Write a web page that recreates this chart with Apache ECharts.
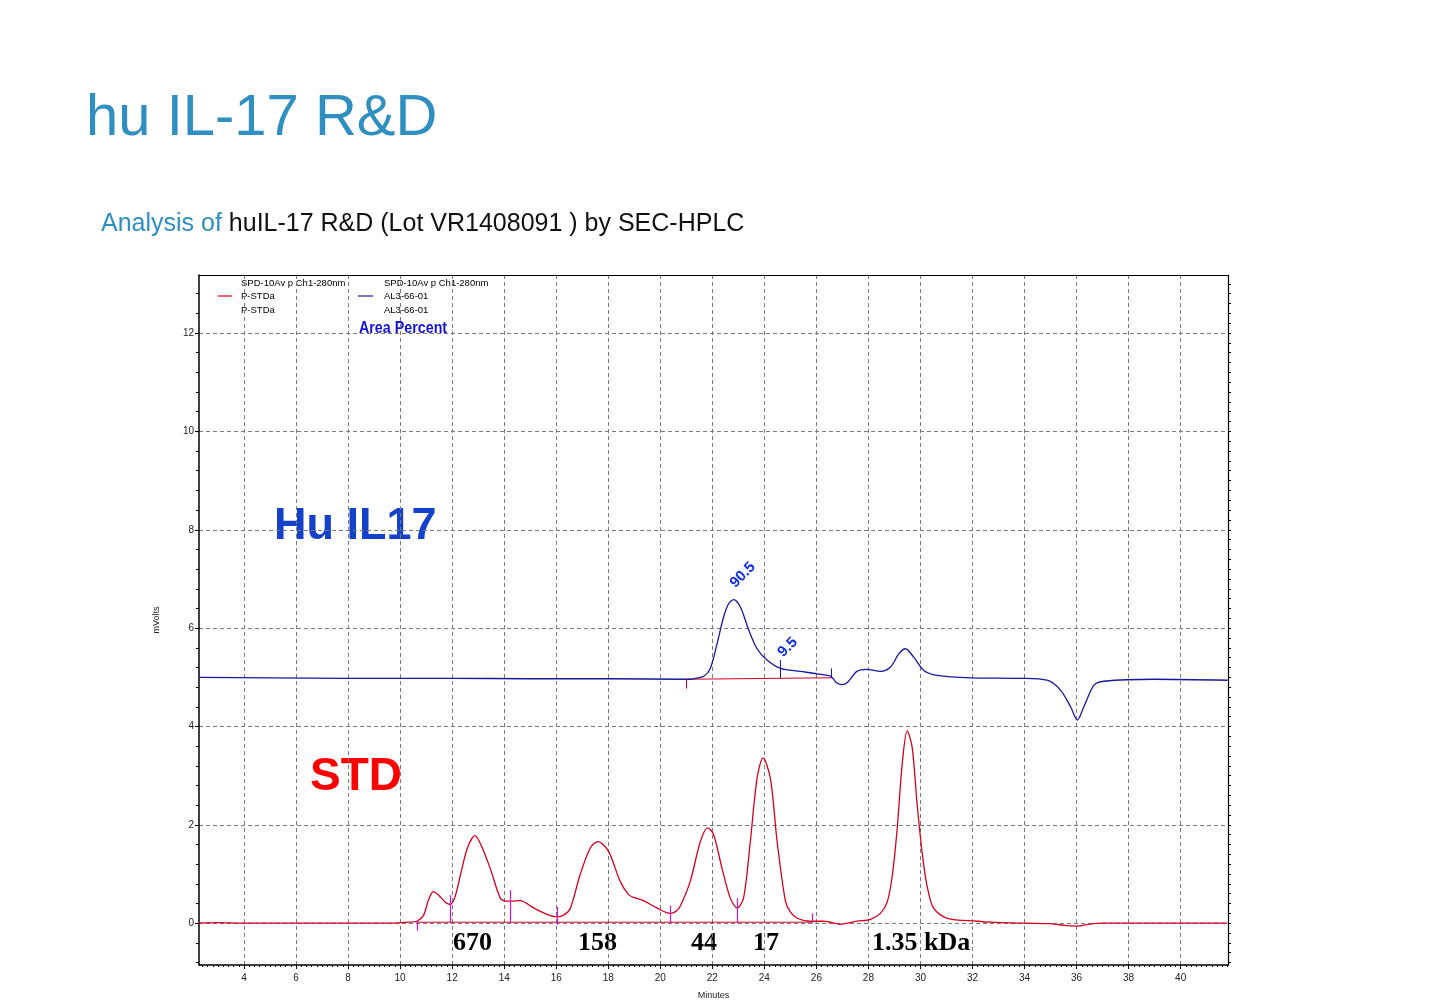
<!DOCTYPE html>
<html>
<head>
<meta charset="utf-8">
<title>hu IL-17 R&amp;D</title>
<script src="https://cdn.jsdelivr.net/npm/echarts@6.0.0/dist/echarts.min.js"></script>
<style>
html, body { margin: 0; padding: 0; background: #fff; }
#chart { width: 1439px; height: 1000px; }
</style>
</head>
<body>
<div id="chart"></div>
<script>
// STD trace (P-STDa), retention time in minutes / signal in mV
const stdTime = [2.27, 3.0, 4.0, 5.0, 6.0, 8.0, 9.5, 10.0, 10.3, 10.64, 10.9, 11.09, 11.28, 11.5, 11.75, 11.92,
	12.1, 12.35, 12.6, 12.88, 13.1, 13.46, 13.85, 14.05, 14.23, 14.62, 15.13, 15.64, 16.03, 16.3, 16.54,
	16.92, 17.31, 17.6, 18.01, 18.46, 18.78, 19.0, 19.36, 19.87, 20.38, 20.6, 20.77, 21.15, 21.54, 21.82,
	22.05, 22.37, 22.69, 22.95, 23.2, 23.46, 23.72, 23.95, 24.23, 24.49, 24.81, 25.0, 25.26, 25.77, 26.28,
	26.92, 27.56, 28.08, 28.46, 28.72, 28.91, 29.1, 29.3, 29.49, 29.68, 29.87, 30.07, 30.26, 30.51, 31.03,
	32.18, 32.69, 34.0, 35.0, 35.6, 36.0, 36.5, 37.0, 41.8];
const stdSignal = [0.0, 0.01, 0.0, 0.0, 0.0, 0.0, 0.0, 0.01, 0.02, 0.04, 0.16, 0.47, 0.64, 0.56, 0.42, 0.38,
	0.52, 1.05, 1.55, 1.78, 1.6, 1.12, 0.51, 0.45, 0.45, 0.46, 0.31, 0.18, 0.13, 0.17, 0.3,
	0.99, 1.53, 1.66, 1.46, 0.85, 0.58, 0.52, 0.46, 0.31, 0.2, 0.24, 0.35, 0.85, 1.66, 1.94,
	1.8, 1.12, 0.51, 0.31, 0.51, 1.66, 2.95, 3.36, 2.95, 1.66, 0.45, 0.23, 0.1, 0.04, 0.04,
	-0.02, 0.04, 0.08, 0.2, 0.43, 0.94, 1.89, 3.25, 3.91, 3.58, 2.43, 1.41, 0.74, 0.3, 0.1,
	0.04, 0.02, 0.0, -0.01, -0.05, -0.06, -0.02, 0.0, 0.0];

// Hu IL17 trace (AL3-66-01)
const ilTime = [2.27, 5.0, 8.0, 12.0, 15.0, 18.0, 21.0, 21.28, 21.67, 21.92, 22.18, 22.43, 22.63, 22.82,
	23.08, 23.4, 23.72, 24.1, 24.62, 25.38, 26.03, 26.56, 26.75, 26.99, 27.2, 27.56, 27.95, 28.46,
	28.85, 29.17, 29.42, 29.74, 30.13, 30.64, 31.92, 33.85, 34.87, 35.38, 35.77, 36.03, 36.28,
	36.67, 37.05, 38.97, 41.8];
const ilSignal = [5.0, 4.99, 4.98, 4.98, 4.97, 4.97, 4.96, 4.97, 5.02, 5.18, 5.68, 6.22, 6.5, 6.58,
	6.43, 5.96, 5.58, 5.35, 5.18, 5.12, 5.07, 5.02, 4.9, 4.85, 4.9, 5.12, 5.16, 5.12,
	5.21, 5.48, 5.58, 5.41, 5.14, 5.04, 4.99, 4.98, 4.94, 4.74, 4.4, 4.13, 4.4,
	4.84, 4.92, 4.96, 4.94];

// integration marks on the STD trace
const stdMarkTime = [10.64, 11.92, 14.23, 16.03, 20.38, 22.95, 25.83];
const stdMarkLow = [-0.15, 0.0, 0.0, -0.03, 0.0, 0.0, 0.0];
const stdMarkHigh = [0.06, 0.57, 0.67, 0.33, 0.36, 0.51, 0.2];
const stdBaseTime = [10.64, 25.83];
const stdBaseLevel = [0.02, 0.02];

// integration marks on the IL17 trace
const ilBaseTime = [20.99, 26.56];
const ilBaseLevel = [4.96, 4.99];
const ilStartTime = [20.99];
const ilStartLow = [4.77];
const ilStartHigh = [4.96];
const ilMarkTime = [24.62, 26.56];
const ilMarkLow = [4.98, 4.98];
const ilMarkHigh = [5.35, 5.18];

// area percent labels
const areaText = ['90.5', '9.5'];
const areaTime = [23.17, 24.9];
const areaLevel = [7.08, 5.61];

// axes
const xMin = 2.27, xMax = 41.82;
const yMin = -0.85, yMax = 13.18;
const xMajor = [4, 6, 8, 10, 12, 14, 16, 18, 20, 22, 24, 26, 28, 30, 32, 34, 36, 38, 40];
const yMajor = [0, 2, 4, 6, 8, 10, 12];

const xMinor = [];
for (let v = 2.4; v < xMax; v += 0.2) xMinor.push(+v.toFixed(1));
const yMinorLeft = [];
for (let v = -0.8; v < yMax; v += 0.4) yMinorLeft.push(+v.toFixed(1));
const yMinorRight = [];
for (let v = -0.8; v < yMax; v += 0.2) yMinorRight.push(+v.toFixed(1));

const pairs = (xs, ys) => xs.map((x, i) => [x, ys[i]]);
const vmarks = (ts, lo, hi) => ts.map((t, i) => [{ coord: [t, lo[i]] }, { coord: [t, hi[i]] }]);

const RED = '#d3001e';
const BLUE = '#17189b';
const MAGENTA = '#cc19c8';
const GRID = '#7a7a7a';
const tickFont = { color: '#222', fontSize: 10, fontFamily: 'Liberation Sans, Arial, sans-serif' };
const smallFont = '9.5px "Liberation Sans", Arial, sans-serif';
const serifBold = 'bold 26px "Liberation Serif", "Times New Roman", serif';

const myChart = echarts.init(document.getElementById('chart'), null, { renderer: 'canvas' });

const option = {
	animation: false,
	backgroundColor: '#fff',
	grid: { left: 199, top: 275, right: 211, bottom: 35, containLabel: false, outerBoundsMode: 'none' },
	xAxis: [{
		type: 'value', min: xMin, max: xMax, position: 'bottom',
		name: 'Minutes', nameLocation: 'middle', nameGap: 26,
		nameTextStyle: { color: '#222', fontSize: 9, fontFamily: 'Liberation Sans, Arial, sans-serif' },
		axisLine: { show: true, onZero: false, lineStyle: { color: '#000', width: 1.5 } },
		axisTick: { show: true, length: 4, customValues: xMajor, lineStyle: { color: '#000' } },
		axisLabel: Object.assign({ customValues: xMajor, margin: 8 }, tickFont),
		splitLine: { show: true, lineStyle: { color: GRID, type: [4, 3], width: 1 } }
	}, {
		type: 'value', min: xMin, max: xMax, position: 'bottom',
		axisLine: { show: false, onZero: false },
		axisTick: { show: true, length: 2, customValues: xMinor, lineStyle: { color: '#000' } },
		axisLabel: { show: false },
		splitLine: { show: false }
	}, {
		type: 'value', min: xMin, max: xMax, position: 'top',
		axisLine: { show: true, onZero: false, lineStyle: { color: '#000', width: 1.2 } },
		axisTick: { show: false },
		axisLabel: { show: false },
		splitLine: { show: false }
	}],
	yAxis: [{
		type: 'value', min: yMin, max: yMax, position: 'left',
		name: 'mVolts', nameLocation: 'middle', nameGap: 38,
		nameTextStyle: { color: '#222', fontSize: 9, fontFamily: 'Liberation Sans, Arial, sans-serif' },
		axisLine: { show: true, onZero: false, lineStyle: { color: '#000', width: 1.5 } },
		axisTick: { show: true, length: 4, customValues: yMajor, lineStyle: { color: '#000' } },
		axisLabel: Object.assign({ customValues: yMajor, margin: 5 }, tickFont),
		splitLine: { show: true, lineStyle: { color: GRID, type: [4, 3], width: 1 } }
	}, {
		type: 'value', min: yMin, max: yMax, position: 'left',
		axisLine: { show: false, onZero: false },
		axisTick: { show: true, length: 3, customValues: yMinorLeft, lineStyle: { color: '#000' } },
		axisLabel: { show: false },
		splitLine: { show: false }
	}, {
		type: 'value', min: yMin, max: yMax, position: 'right',
		axisLine: { show: true, onZero: false, lineStyle: { color: '#000', width: 1.2 } },
		axisTick: { show: true, length: 3, customValues: yMinorRight, lineStyle: { color: '#000' } },
		axisLabel: { show: false },
		splitLine: { show: false }
	}],
	series: [{
		name: 'AL3-66-01 base',
		type: 'line', xAxisIndex: 0, yAxisIndex: 0,
		data: pairs(ilBaseTime, ilBaseLevel),
		showSymbol: false, silent: true,
		lineStyle: { color: RED, width: 1 },
		markLine: {
			silent: true, symbol: 'none', label: { show: false },
			lineStyle: { color: RED, width: 1, type: 'solid' },
			data: vmarks(ilStartTime, ilStartLow, ilStartHigh)
		}
	}, {
		name: 'AL3-66-01',
		type: 'line', xAxisIndex: 0, yAxisIndex: 0,
		data: pairs(ilTime, ilSignal),
		smooth: 0.3, showSymbol: false, silent: true,
		lineStyle: { color: BLUE, width: 1.3 },
		markLine: {
			silent: true, symbol: 'none', label: { show: false },
			lineStyle: { color: BLUE, width: 1, type: 'solid' },
			data: vmarks(ilMarkTime, ilMarkLow, ilMarkHigh)
		}
	}, {
		name: 'P-STDa base',
		type: 'line', xAxisIndex: 0, yAxisIndex: 0,
		data: pairs(stdBaseTime, stdBaseLevel),
		showSymbol: false, silent: true,
		lineStyle: { color: RED, width: 1 }
	}, {
		name: 'P-STDa',
		type: 'line', xAxisIndex: 0, yAxisIndex: 0,
		data: pairs(stdTime, stdSignal),
		smooth: 0.3, showSymbol: false, silent: true,
		lineStyle: { color: RED, width: 1.3 },
		markLine: {
			silent: true, symbol: 'none', label: { show: false },
			lineStyle: { color: MAGENTA, width: 1.2, type: 'solid' },
			data: vmarks(stdMarkTime, stdMarkLow, stdMarkHigh)
		}
	}, {
		name: 'Area Percent',
		type: 'scatter', xAxisIndex: 0, yAxisIndex: 0,
		symbolSize: 0, silent: true,
		itemStyle: { opacity: 1 },
		data: areaTime.map((t, i) => ({ value: [t, areaLevel[i]], name: areaText[i] })),
		label: {
			show: true, position: 'inside', rotate: 45, opacity: 1,
			formatter: p => p.name,
			color: '#0f30e0', fontSize: 15, fontWeight: 'bold',
			fontFamily: 'Liberation Sans, Arial, sans-serif'
		}
	}],
	graphic: [
		{ type: 'text', x: 86, y: 119, style: { text: 'hu IL-17 R&D', fill: '#2f8fc0', font: '58px "Liberation Sans", Arial, sans-serif', verticalAlign: 'middle' } },
		{ type: 'text', x: 101, y: 224, style: {
			text: '{a|Analysis of }{b|huIL-17 R&D (Lot VR1408091 ) by SEC-HPLC}',
			verticalAlign: 'middle',
			rich: {
				a: { fill: '#2f8fc0', font: '25px "Liberation Sans", Arial, sans-serif' },
				b: { fill: '#111', font: '25px "Liberation Sans", Arial, sans-serif' }
			}
		} },
		// legend block
		{ type: 'text', x: 241, y: 283, style: { text: 'SPD-10Av p Ch1-280nm', fill: '#000', font: smallFont, verticalAlign: 'middle' } },
		{ type: 'line', shape: { x1: 218, y1: 296, x2: 232, y2: 296 }, style: { stroke: RED, lineWidth: 1.2 } },
		{ type: 'text', x: 241, y: 296, style: { text: 'P-STDa', fill: '#000', font: smallFont, verticalAlign: 'middle' } },
		{ type: 'text', x: 241, y: 310, style: { text: 'P-STDa', fill: '#000', font: smallFont, verticalAlign: 'middle' } },
		{ type: 'text', x: 384, y: 283, style: { text: 'SPD-10Av p Ch1-280nm', fill: '#000', font: smallFont, verticalAlign: 'middle' } },
		{ type: 'line', shape: { x1: 358, y1: 296, x2: 373, y2: 296 }, style: { stroke: BLUE, lineWidth: 1.2 } },
		{ type: 'text', x: 384, y: 296, style: { text: 'AL3-66-01', fill: '#000', font: smallFont, verticalAlign: 'middle' } },
		{ type: 'text', x: 384, y: 310, style: { text: 'AL3-66-01', fill: '#000', font: smallFont, verticalAlign: 'middle' } },
		{ type: 'text', x: 359, y: 328, scaleX: 0.84, style: { text: 'Area Percent', fill: '#1212e0', font: 'bold 17px "Liberation Sans", Arial, sans-serif', verticalAlign: 'middle' } },
		// sample names
		{ type: 'text', x: 274, y: 527, style: { text: 'Hu IL17', fill: '#1441c9', font: 'bold 45px "Liberation Sans", Arial, sans-serif', verticalAlign: 'middle' } },
		{ type: 'text', x: 310, y: 777, style: { text: 'STD', fill: '#fe0000', font: 'bold 46px "Liberation Sans", Arial, sans-serif', verticalAlign: 'middle' } },
		// standard sizes
		{ type: 'text', x: 453, y: 943, style: { text: '670', fill: '#000', font: serifBold, verticalAlign: 'middle' } },
		{ type: 'text', x: 578, y: 943, style: { text: '158', fill: '#000', font: serifBold, verticalAlign: 'middle' } },
		{ type: 'text', x: 691, y: 943, style: { text: '44', fill: '#000', font: serifBold, verticalAlign: 'middle' } },
		{ type: 'text', x: 753, y: 943, style: { text: '17', fill: '#000', font: serifBold, verticalAlign: 'middle' } },
		{ type: 'text', x: 872, y: 943, style: { text: '1.35 kDa', fill: '#000', font: serifBold, verticalAlign: 'middle' } }
	]
};

myChart.setOption(option);
</script>
</body>
</html>
